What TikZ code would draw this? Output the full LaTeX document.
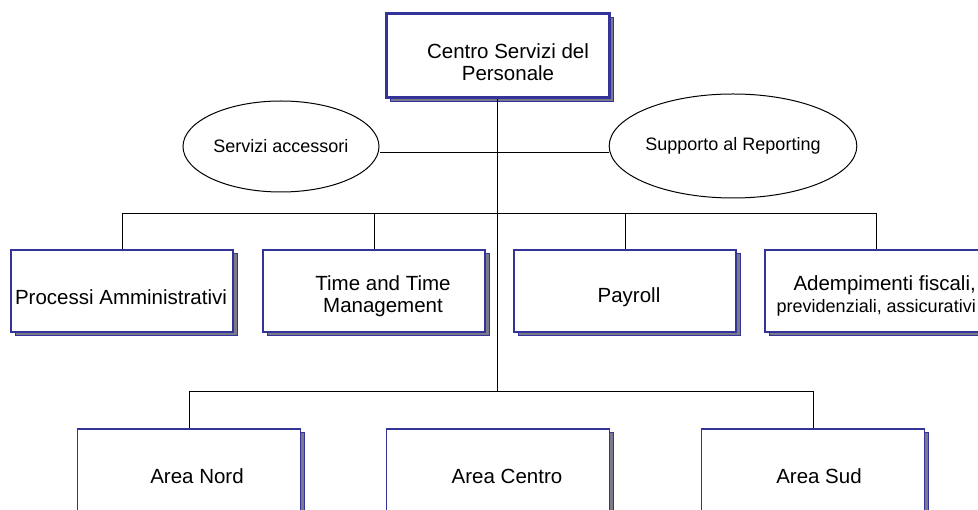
\documentclass[tikz,border=0pt]{standalone}
\usepackage{fontspec}
\setmainfont{Liberation Sans}
\usetikzlibrary{shadows,shapes.geometric}
\definecolor{boxblue}{HTML}{333399}
\definecolor{shadowgray}{HTML}{7A7A8A}
\tikzset{
  boxbase/.style={draw=boxblue, fill=white, inner sep=0pt,
    drop shadow={shadow xshift=4pt, shadow yshift=-4pt, fill=shadowgray, draw=boxblue, line width=1pt, opacity=1}},
  unitbox/.style={boxbase, line width=1.6pt, minimum width=222pt, minimum height=82pt},
  areabox/.style={boxbase, line width=1.6pt, minimum width=223pt, minimum height=180pt},
  topbox/.style={boxbase, line width=3pt, minimum width=223pt, minimum height=84pt},
  ell/.style={draw=black, line width=1pt, ellipse, fill=white, inner sep=0pt, minimum width=196pt,
    font=\fontsize{18}{20}\selectfont},
  lbl/.style={inner sep=0pt, align=center, font=\fontsize{20.5}{22}\selectfont},
  conn/.style={draw=black, line width=0.8pt}
}
\begin{document}
\begin{tikzpicture}[x=1pt, y=-1pt]
\useasboundingbox (0,0) rectangle (978,510);
\clip (0,0) rectangle (978,510);
\fill[white] (0,0) rectangle (978,510);

\coordinate (hub) at (497.5,152);
\coordinate (j1) at (497.5,213);
\coordinate (j2) at (497.5,391);

% top
\node[topbox] (top) at (497.5,56) {};
\node[lbl] (toptext) at (508,62.5) {Centro Servizi del\\Personale};

% ellipses
\node[ell, minimum height=91pt] (acc) at (281,146.5) {Servizi accessori};
\node[ell, minimum height=104pt] (rep) at (733,146) {Supporto al Reporting};

% row 2 boxes
\node[unitbox] (b1) at (122,291) {};
\node[unitbox] (b2) at (374,291) {};
\node[unitbox] (b3) at (625,291) {};
\node[unitbox] (b4) at (876,291) {};

% row 3 boxes
\node[areabox] (c1) at (189,519) {};
\node[areabox] (c2) at (498,519) {};
\node[areabox] (c3) at (813,519) {};

% connectors
\draw[conn] (top.south) -- (j2);
\draw[conn] (acc.east |- hub) -- (rep.west |- hub);
\draw[conn] (b1.north) -- (b1.north |- j1) -- (b4.north |- j1) -- (b4.north);
\draw[conn] (b2.north) -- (b2.north |- j1);
\draw[conn] (b3.north) -- (b3.north |- j1);
\draw[conn] (c1.north) -- (c1.north |- j2) -- (c3.north |- j2) -- (c3.north);

% texts
\node[lbl] (t1) at (121,297) {Processi Amministrativi};
\node[lbl] (t2) at (383,296) {Time and Time\\Management};
\node[lbl] (t3) at (629,297) {Payroll};
\node[lbl, anchor=east, align=right] (t4) at (976,296) {Adempimenti fiscali,\\{\fontsize{18}{18}\selectfont previdenziali, assicurativi}};
\node[lbl] (t5) at (197,476) {Area Nord};
\node[lbl] (t6) at (507,476) {Area Centro};
\node[lbl] (t7) at (819,476) {Area Sud};
\end{tikzpicture}
\end{document}
